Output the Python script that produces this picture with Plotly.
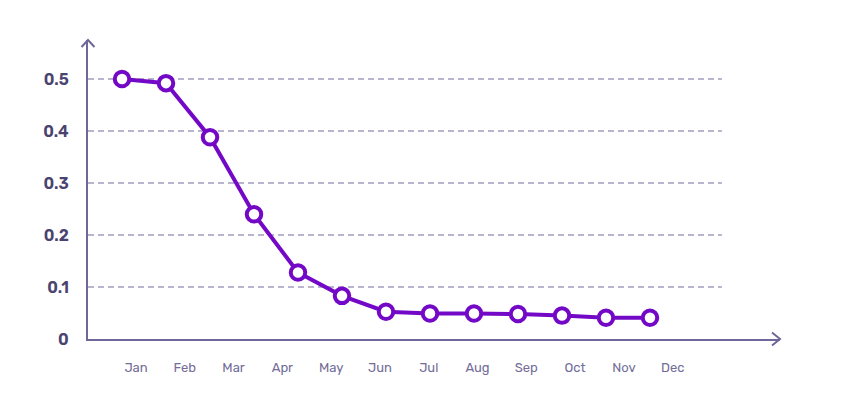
import plotly.graph_objects as go

# monthly labels along the x axis
months = ["Jan", "Feb", "Mar", "Apr", "May", "Jun", "Jul", "Aug", "Sep", "Oct", "Nov", "Dec"]
# series points (13 samples)
steps = list(range(13))
values = [0.5, 0.492, 0.388, 0.240, 0.128, 0.083, 0.0525, 0.049, 0.049, 0.048, 0.045, 0.041, 0.041]
y_ticks = [0, 0.1, 0.2, 0.3, 0.4, 0.5]
y_labels = ["0", "0.1", "0.2", "0.3", "0.4", "0.5"]

axis_col = "#6f6799"
grid_col = "#a29dbf"
line_col = "#7309c6"

fig = go.Figure()

# invisible trace just to carry the month axis
fig.add_trace(go.Scatter(x=months, y=[None] * len(months), xaxis="x", yaxis="y",
                         mode="markers", showlegend=False, hoverinfo="skip"))

fig.add_trace(go.Scatter(
    x=steps, y=values, xaxis="x2", yaxis="y",
    mode="lines+markers",
    line=dict(color=line_col, width=4),
    marker=dict(size=14.5, color="white", line=dict(color=line_col, width=4)),
    showlegend=False,
))

# dashed grid lines, stopping short of the arrow
shapes = []
for t in y_ticks[1:]:
    shapes.append(dict(type="line", xref="paper", yref="y", x0=0, x1=0.916, y0=t, y1=t,
                       line=dict(color=grid_col, width=1.3, dash="6px,4px"), layer="below"))

# arrow heads on the axes
shapes.append(dict(type="path", xref="paper", yref="paper", xsizemode="pixel", ysizemode="pixel",
                   xanchor=0, yanchor=1, path="M -6.5,-7 L 0,0 L 6.5,-7",
                   line=dict(color=axis_col, width=2)))
shapes.append(dict(type="path", xref="paper", yref="paper", xsizemode="pixel", ysizemode="pixel",
                   xanchor=1, yanchor=0, path="M -8,6.5 L 0,0 L -8,-6.5",
                   line=dict(color=axis_col, width=2)))

fig.update_layout(
    width=842, height=406,
    margin=dict(l=80, r=70, t=32, b=75),
    paper_bgcolor="white", plot_bgcolor="white",
    font=dict(family="Rubik, Inter, sans-serif"),
    xaxis=dict(type="category", range=[-0.984, 13.2], showgrid=False, zeroline=False,
               showline=True, linecolor=axis_col, linewidth=2,
               tickfont=dict(size=13, color="#736d98"), ticks="", ticklabelstandoff=15),
    xaxis2=dict(overlaying="x", range=[-0.773, 14.955], visible=False),
    yaxis=dict(range=[0, 0.575], tickvals=y_ticks, ticktext=y_labels, showgrid=False,
               zeroline=False, showline=True, linecolor=axis_col, linewidth=2,
               tickfont=dict(size=16, color="#4a4370", weight=600), ticks="",
               ticklabelstandoff=14),
    shapes=shapes,
)

fig.write_html("out.html")
